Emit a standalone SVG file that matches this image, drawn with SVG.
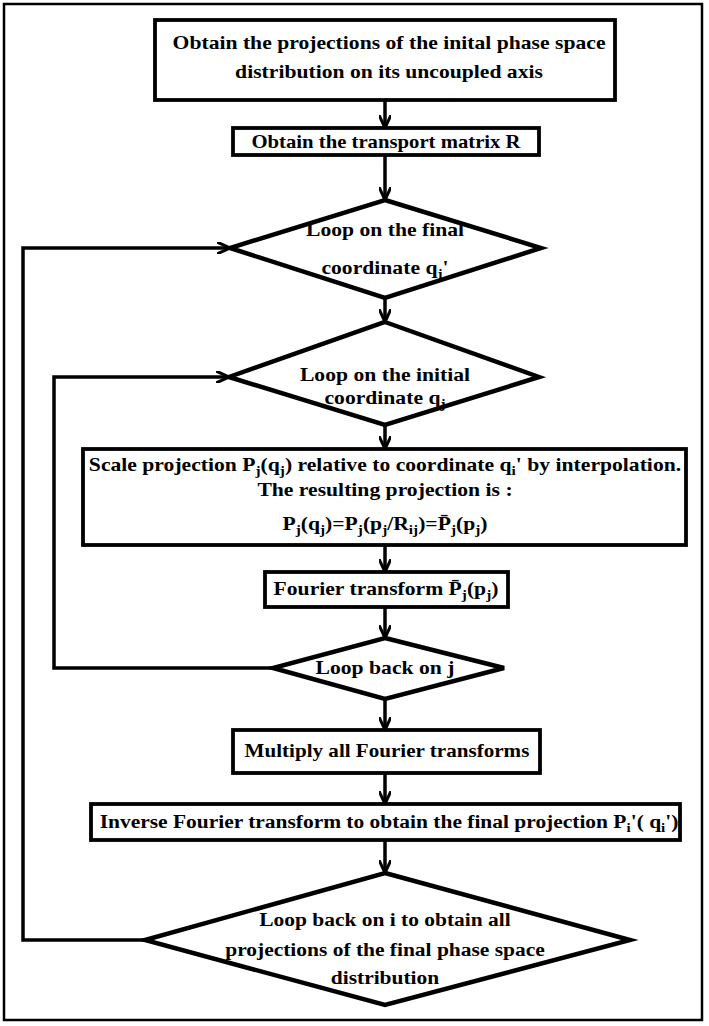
<svg xmlns="http://www.w3.org/2000/svg" width="709" height="1026" viewBox="0 0 709 1026">
<style>
.box{fill:#fff;stroke:#000;stroke-width:3.8}
.dia{fill:#fff;stroke:#000;stroke-width:4.5;stroke-linejoin:miter}
.t{font-family:"Liberation Serif","Times New Roman",serif;font-weight:bold;font-size:18.5px;fill:#000;text-anchor:middle}
.s{font-size:13px}
.con{fill:none;stroke:#000;stroke-width:3.5;marker-end:url(#arr)}
</style>
<defs>
<marker id="arr" viewBox="0 0 14 12" refX="13" refY="6" markerWidth="14" markerHeight="12" markerUnits="userSpaceOnUse" orient="auto">
<path d="M0,0 L13,6 L0,12" fill="none" stroke="#000" stroke-width="3"/>
</marker>
</defs>
<rect x="4" y="4" width="698" height="1016" fill="#fff" stroke="#000" stroke-width="2.5"/>
<g id="connectors">
<line class="con" x1="385" y1="100" x2="385" y2="128"/>
<line class="con" x1="385" y1="155" x2="385" y2="200"/>
<line class="con" x1="385" y1="298" x2="385" y2="322"/>
<line class="con" x1="385" y1="425" x2="385" y2="449"/>
<line class="con" x1="385" y1="545" x2="385" y2="572"/>
<line class="con" x1="385" y1="607" x2="385" y2="638"/>
<line class="con" x1="385" y1="699" x2="385" y2="730"/>
<line class="con" x1="385" y1="773" x2="385" y2="804"/>
<line class="con" x1="385" y1="840" x2="385" y2="873"/>
<polyline class="con" points="145,940 23,940 23,248 230,248"/>
<polyline class="con" points="273,668 54,668 54,377 229,377"/>
</g>
<g id="box1">
<rect class="box" x="155" y="20" width="460" height="80"/>
<text class="t" x="389" y="49" transform="matrix(1.17 0 0 1 -66.1 0)">Obtain the projections of the inital phase space</text>
<text class="t" x="389" y="78" transform="matrix(1.17 0 0 1 -66.1 0)">distribution on its uncoupled axis</text>
</g>
<g id="box2">
<rect class="box" x="233" y="128" width="306" height="27"/>
<text class="t" x="386" y="148" transform="matrix(1.12 0 0 1 -46.3 0)">Obtain the transport matrix R</text>
</g>
<g id="dia1">
<polygon class="dia" points="385,200 541,248 385,298 230,248"/>
<text class="t" x="385" y="236" transform="matrix(1.17 0 0 1 -65.45 0)">Loop on the final</text>
<text class="t" x="385" y="274" transform="matrix(1.17 0 0 1 -65.45 0)">coordinate q<tspan class="s" dy="4">j</tspan><tspan dy="-4">'</tspan></text>
</g>
<g id="dia2">
<polygon class="dia" points="385,322 539,377 385,425 229,377"/>
<text class="t" x="385" y="381" transform="matrix(1.17 0 0 1 -65.45 0)">Loop on the initial</text>
<text class="t" x="385" y="404" transform="matrix(1.17 0 0 1 -65.45 0)">coordinate q<tspan class="s" dy="4">j</tspan></text>
</g>
<g id="box3">
<rect class="box" x="83" y="449" width="603" height="96"/>
<text class="t" x="385" y="471" transform="matrix(1.17 0 0 1 -65.45 0)">Scale projection P<tspan class="s" dy="4">j</tspan><tspan dy="-4">(q</tspan><tspan class="s" dy="4">j</tspan><tspan dy="-4">) relative to coordinate q</tspan><tspan class="s" dy="4">i</tspan><tspan dy="-4">' by interpolation.</tspan></text>
<text class="t" x="385" y="496" transform="matrix(1.17 0 0 1 -65.45 0)">The resulting projection is :</text>
<text class="t" x="385" y="530" transform="matrix(1.17 0 0 1 -65.45 0)">P<tspan class="s" dy="4">j</tspan><tspan dy="-4">(q</tspan><tspan class="s" dy="4">j</tspan><tspan dy="-4">)=P</tspan><tspan class="s" dy="4">j</tspan><tspan dy="-4">(p</tspan><tspan class="s" dy="4">j</tspan><tspan dy="-4">/R</tspan><tspan class="s" dy="4">ij</tspan><tspan dy="-4">)=P̄</tspan><tspan class="s" dy="4">j</tspan><tspan dy="-4">(p</tspan><tspan class="s" dy="4">j</tspan><tspan dy="-4">)</tspan></text>
</g>
<g id="box4">
<rect class="box" x="265" y="572" width="243" height="35"/>
<text class="t" x="386" y="595" transform="matrix(1.17 0 0 1 -65.6 0)">Fourier transform P̄<tspan class="s" dy="4">j</tspan><tspan dy="-4">(p</tspan><tspan class="s" dy="4">j</tspan><tspan dy="-4">)</tspan></text>
</g>
<g id="dia3">
<polygon class="dia" points="385,638 504,668 385,699 273,668"/>
<text class="t" x="385" y="674" transform="matrix(1.17 0 0 1 -65.45 0)">Loop back on j</text>
</g>
<g id="box5">
<rect class="box" x="233" y="730" width="307" height="43"/>
<text class="t" x="387" y="757" transform="matrix(1.14 0 0 1 -54.2 0)">Multiply all Fourier transforms</text>
</g>
<g id="box6">
<rect class="box" x="91" y="804" width="589" height="36"/>
<text class="t" x="389" y="828" transform="matrix(1.16 0 0 1 -62.2 0)">Inverse Fourier transform to obtain the final projection  P<tspan class="s" dy="4">i</tspan><tspan dy="-4">'( q</tspan><tspan class="s" dy="4">i</tspan><tspan dy="-4">')</tspan></text>
</g>
<g id="dia4">
<polygon class="dia" points="385,873 630,940 385,1005 145,940"/>
<text class="t" x="385" y="926" transform="matrix(1.16 0 0 1 -61.6 0)">Loop back on i to obtain all</text>
<text class="t" x="385" y="956" transform="matrix(1.16 0 0 1 -61.6 0)">projections of the final phase space</text>
<text class="t" x="385" y="984" transform="matrix(1.16 0 0 1 -61.6 0)">distribution</text>
</g>
</svg>
